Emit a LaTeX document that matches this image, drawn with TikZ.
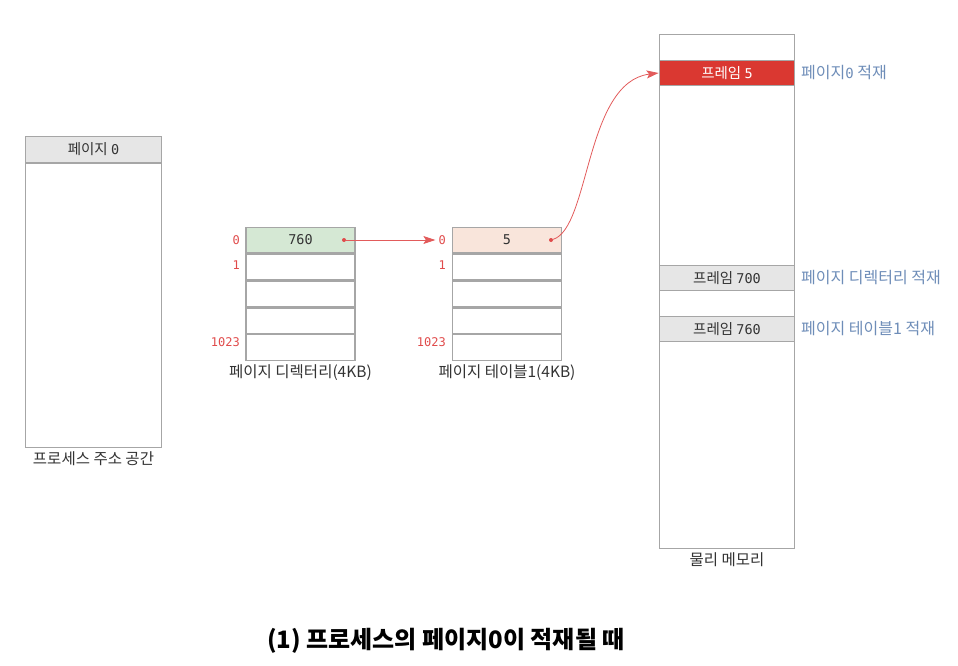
\documentclass[tikz,border=0pt]{standalone}
\usepackage{fontspec}
\setmainfont{Noto Sans CJK KR}
\newfontfamily\mono{DejaVu Sans Mono}
\usetikzlibrary{positioning,arrows.meta}
\definecolor{linegray}{HTML}{A6A6A6}
\definecolor{cellgray}{HTML}{E6E6E6}
\definecolor{pdgreen}{HTML}{D5E8D4}
\definecolor{ptpeach}{HTML}{F9E5DB}
\definecolor{framered}{HTML}{DA3831}
\definecolor{idxred}{HTML}{E04B4B}
\definecolor{arrowred}{HTML}{E25B5B}
\definecolor{noteblue}{HTML}{6E8DB8}
\definecolor{textgray}{HTML}{333333}
\newcommand{\num}[1]{{\fontsize{13.5}{16}\mono #1}}
\begin{document}
\begin{tikzpicture}[
    x=1pt, y=-1pt,
    cell/.style={draw=linegray, line width=1.3pt, minimum width=109pt, minimum height=25.6pt, inner sep=0pt, text=textgray, font=\fontsize{14.5}{16}\selectfont},
    wide/.style={cell, minimum width=135.5pt},
    caption/.style={text=textgray, font=\fontsize{15.5}{17}\selectfont, inner sep=1pt},
    index/.style={anchor=east, text=idxred, inner sep=0pt, font=\fontsize{12}{14}\mono},
    note/.style={anchor=west, text=noteblue, inner sep=0pt, font=\fontsize{16}{18}\selectfont},
    dot/.style={circle, fill=idxred, inner sep=0pt, minimum size=4pt},
    arrow/.style={-{Stealth[length=12pt, width=8pt, inset=2.5pt]}, arrowred, line width=0.8pt}
]
    \useasboundingbox (0,0) rectangle (958,666);

    % process address space
    \node[wide, fill=cellgray] (pg0) at (93.5,149.5) {페이지 \num{0}};
    \node[wide, minimum height=284pt, anchor=north] (proc) at (pg0.south) {};
    \node[caption, below=2pt of proc] (proccap) {프로세스 주소 공간};

    % page directory
    \node[cell, fill=pdgreen] (pd0) at (300.5,240) {\num{760}};
    \foreach \i/\j in {1/0,2/1,3/2,4/3}
        \node[cell, anchor=north] (pd\i) at (pd\j.south) {};
    \node[caption, below=2pt of pd4] (pdcap) {페이지 디렉터리(4KB)};
    \node[index] (pdi0) at (240,240) {0};
    \node[index] (pdi1) at (240,265.6) {1};
    \node[index] (pdi4) at (240,342.4) {1023};

    % page table 1
    \node[cell, fill=ptpeach] (pt0) at (507,240) {\num{5}};
    \foreach \i/\j in {1/0,2/1,3/2,4/3}
        \node[cell, anchor=north] (pt\i) at (pt\j.south) {};
    \node[caption, below=2pt of pt4] (ptcap) {페이지 테이블1(4KB)};
    \node[index] (pti0) at (446,240) {0};
    \node[index] (pti1) at (446,265.6) {1};
    \node[index] (pti4) at (446,342.4) {1023};

    % physical memory
    \node[wide, minimum height=514pt, anchor=north] (mem) at (727,34) {};
    \node[wide, fill=framered, text=white] (fr5) at (727,73) {프레임 \num{5}};
    \node[wide, fill=cellgray] (fr700) at (727,278) {프레임 \num{700}};
    \node[wide, fill=cellgray] (fr760) at (727,329) {프레임 \num{760}};
    \node[caption, below=2pt of mem] (memcap) {물리 메모리};

    % notes
    \node[note] (n5) at (801,73) {페이지{\fontsize{14}{16}\mono 0} 적재};
    \node[note] (n700) at (801,278) {페이지 디렉터리 적재};
    \node[note] (n760) at (801,329) {페이지 테이블1 적재};

    % pointers
    \node[dot] (pddot) at (344,240) {};
    \node[dot] (ptdot) at (551,240) {};
    \draw[arrow] (pddot) -- ([xshift=-3pt]pti0.west);
    \draw[arrow] (ptdot) .. controls (590,228) and (585,82) .. (fr5.west);

    % title
    \node[font=\fontsize{24}{28}\selectfont\bfseries, text=black] (title) at (446,641) {(1) 프로세스의 페이지0이 적재될 때};
\end{tikzpicture}
\end{document}
